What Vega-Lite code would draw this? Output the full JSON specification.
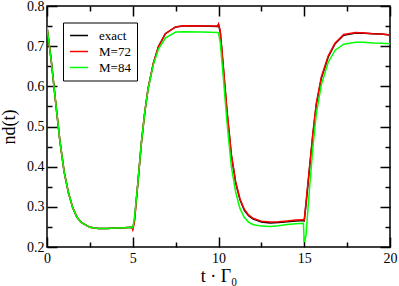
{
  "$schema": "https://vega.github.io/schema/vega-lite/v6.json",
  "width": 343,
  "height": 241,
  "autosize": {"type": "none"},
  "padding": {"left": 47, "top": 6, "right": 9, "bottom": 39},
  "background": "white",
  "config": {
    "view": {"stroke": "#000000", "strokeWidth": 1.5},
    "font": "'Liberation Serif', 'DejaVu Serif', serif",
    "axis": {"grid": false, "labelFlush": false, "labelOverlap": false, "tickColor": "#000000", "tickWidth": 1.5, "domain": false, "labelColor": "#000000", "titleColor": "#000000", "labelFont": "'Liberation Serif', 'DejaVu Serif', serif", "titleFont": "'Liberation Serif', 'DejaVu Serif', serif", "titleFontWeight": "normal"},
    "legend": {"labelFont": "'Liberation Serif', 'DejaVu Serif', serif"}
  },
  "data": {
    "values": [
      {"t": 0, "exact": 0.748, "m72": 0.748, "m84": 0.748},
      {"t": 0.25, "exact": 0.663, "m72": 0.663, "m84": 0.663},
      {"t": 0.5, "exact": 0.562, "m72": 0.562, "m84": 0.562},
      {"t": 0.75, "exact": 0.465, "m72": 0.465, "m84": 0.465},
      {"t": 1.0, "exact": 0.387, "m72": 0.387, "m84": 0.387},
      {"t": 1.25, "exact": 0.335, "m72": 0.335, "m84": 0.335},
      {"t": 1.5, "exact": 0.298, "m72": 0.298, "m84": 0.298},
      {"t": 1.75, "exact": 0.274, "m72": 0.274, "m84": 0.274},
      {"t": 2.0, "exact": 0.261, "m72": 0.261, "m84": 0.261},
      {"t": 2.5, "exact": 0.249, "m72": 0.249, "m84": 0.249},
      {"t": 3.0, "exact": 0.246, "m72": 0.246, "m84": 0.246},
      {"t": 3.5, "exact": 0.246, "m72": 0.246, "m84": 0.246},
      {"t": 4.0, "exact": 0.247, "m72": 0.247, "m84": 0.247},
      {"t": 4.5, "exact": 0.248, "m72": 0.248, "m84": 0.248},
      {"t": 4.95, "exact": 0.249, "m72": 0.249, "m84": 0.249},
      {"t": 5.0, "exact": 0.246, "m72": 0.243, "m84": 0.248},
      {"t": 5.1, "exact": 0.268, "m72": 0.262, "m84": 0.272},
      {"t": 5.3, "exact": 0.36, "m72": 0.36, "m84": 0.36},
      {"t": 5.5, "exact": 0.458, "m72": 0.458, "m84": 0.458},
      {"t": 5.7, "exact": 0.535, "m72": 0.535, "m84": 0.535},
      {"t": 5.9, "exact": 0.596, "m72": 0.596, "m84": 0.594},
      {"t": 6.2, "exact": 0.657, "m72": 0.657, "m84": 0.654},
      {"t": 6.5, "exact": 0.699, "m72": 0.699, "m84": 0.693},
      {"t": 6.9, "exact": 0.731, "m72": 0.731, "m84": 0.72},
      {"t": 7.5, "exact": 0.748, "m72": 0.748, "m84": 0.735},
      {"t": 8.0, "exact": 0.751, "m72": 0.751, "m84": 0.736},
      {"t": 9.0, "exact": 0.75, "m72": 0.75, "m84": 0.735},
      {"t": 9.95, "exact": 0.749, "m72": 0.75, "m84": 0.734},
      {"t": 10.0, "exact": 0.754, "m72": 0.755, "m84": 0.733},
      {"t": 10.1, "exact": 0.736, "m72": 0.738, "m84": 0.71},
      {"t": 10.25, "exact": 0.662, "m72": 0.665, "m84": 0.638},
      {"t": 10.5, "exact": 0.535, "m72": 0.538, "m84": 0.508},
      {"t": 10.75, "exact": 0.428, "m72": 0.43, "m84": 0.4},
      {"t": 11.0, "exact": 0.36, "m72": 0.362, "m84": 0.337},
      {"t": 11.25, "exact": 0.318, "m72": 0.32, "m84": 0.296},
      {"t": 11.5, "exact": 0.292, "m72": 0.294, "m84": 0.274},
      {"t": 11.75, "exact": 0.278, "m72": 0.28, "m84": 0.262},
      {"t": 12.0, "exact": 0.27, "m72": 0.272, "m84": 0.256},
      {"t": 12.5, "exact": 0.262, "m72": 0.264, "m84": 0.252},
      {"t": 13.0, "exact": 0.26, "m72": 0.262, "m84": 0.251},
      {"t": 13.5, "exact": 0.261, "m72": 0.263, "m84": 0.253},
      {"t": 14.0, "exact": 0.263, "m72": 0.265, "m84": 0.256},
      {"t": 14.5, "exact": 0.265, "m72": 0.267, "m84": 0.258},
      {"t": 14.95, "exact": 0.266, "m72": 0.268, "m84": 0.259},
      {"t": 15.0, "exact": 0.265, "m72": 0.267, "m84": 0.212},
      {"t": 15.1, "exact": 0.305, "m72": 0.31, "m84": 0.228},
      {"t": 15.3, "exact": 0.392, "m72": 0.396, "m84": 0.342},
      {"t": 15.5, "exact": 0.478, "m72": 0.482, "m84": 0.446},
      {"t": 15.7, "exact": 0.553, "m72": 0.557, "m84": 0.53},
      {"t": 16.0, "exact": 0.621, "m72": 0.624, "m84": 0.605},
      {"t": 16.4, "exact": 0.673, "m72": 0.676, "m84": 0.66},
      {"t": 16.8, "exact": 0.706, "m72": 0.708, "m84": 0.69},
      {"t": 17.3, "exact": 0.727, "m72": 0.729, "m84": 0.705},
      {"t": 18.0, "exact": 0.733, "m72": 0.734, "m84": 0.71},
      {"t": 18.5, "exact": 0.732, "m72": 0.733, "m84": 0.71},
      {"t": 19.0, "exact": 0.731, "m72": 0.731, "m84": 0.708},
      {"t": 19.5, "exact": 0.73, "m72": 0.73, "m84": 0.707},
      {"t": 20.0, "exact": 0.728, "m72": 0.728, "m84": 0.706}
    ]
  },
  "transform": [
    {"fold": ["exact", "m72", "m84"], "as": ["series", "v"]}
  ],
  "layer": [
    {
      "mark": {"type": "line", "strokeWidth": 1.5, "clip": true},
      "encoding": {
        "x": {"field": "t", "type": "quantitative", "scale": {"domain": [0, 20], "nice": false, "zero": false},
          "axis": {"orient": "bottom", "values": [0, 5, 10, 15, 20], "tickSize": -10, "labelPadding": 14, "labelFontSize": 14, "format": "d", "title": "t · Γ₀", "titleFontSize": 18, "titlePadding": 2}},
        "y": {"field": "v", "type": "quantitative", "scale": {"domain": [0.2, 0.8], "nice": false, "zero": false},
          "axis": {"orient": "left", "values": [0.2, 0.3, 0.4, 0.5, 0.6, 0.7, 0.8], "tickSize": -10, "labelPadding": 13, "labelFontSize": 14, "format": ".1f", "title": "nd(t)", "titleFontSize": 18, "titlePadding": 8}},
        "color": {"field": "series", "type": "nominal",
          "scale": {"domain": ["exact", "m72", "m84"], "range": ["#000000", "#ff0000", "#00ff00"]},
          "legend": {"title": null, "orient": "none", "legendX": 16, "legendY": 16.5, "padding": 6,
            "labelExpr": "datum.value == 'exact' ? 'exact' : datum.value == 'm72' ? 'M=72' : 'M=84'",
            "strokeColor": "#000000", "fillColor": "#ffffff",
            "symbolType": "M-1.5,0H1.5", "symbolSize": 144, "symbolStrokeWidth": 1.5, "symbolOffset": 3,
            "labelOffset": 13, "labelFontSize": 13, "labelColor": "#000000", "rowPadding": 2}}
      }
    },
    {
      "mark": {"type": "point", "opacity": 0},
      "encoding": {
        "x": {"field": "t", "type": "quantitative", "scale": {"domain": [0, 20], "nice": false, "zero": false},
          "axis": {"orient": "bottom", "values": [2.5, 7.5, 12.5, 17.5], "tickSize": -5, "labels": false, "title": null}},
        "y": {"field": "v", "type": "quantitative", "scale": {"domain": [0.2, 0.8], "nice": false, "zero": false},
          "axis": {"orient": "left", "values": [0.25, 0.35, 0.45, 0.55, 0.65, 0.75], "tickSize": -5, "labels": false, "title": null}}
      }
    },
    {
      "mark": {"type": "point", "opacity": 0},
      "encoding": {
        "x": {"field": "t", "type": "quantitative", "scale": {"domain": [0, 20], "nice": false, "zero": false},
          "axis": {"orient": "top", "values": [0, 5, 10, 15, 20], "tickSize": -10, "labels": false, "title": null}},
        "y": {"field": "v", "type": "quantitative", "scale": {"domain": [0.2, 0.8], "nice": false, "zero": false},
          "axis": {"orient": "right", "values": [0.2, 0.3, 0.4, 0.5, 0.6, 0.7, 0.8], "tickSize": -10, "labels": false, "title": null}}
      }
    },
    {
      "mark": {"type": "point", "opacity": 0},
      "encoding": {
        "x": {"field": "t", "type": "quantitative", "scale": {"domain": [0, 20], "nice": false, "zero": false},
          "axis": {"orient": "top", "values": [2.5, 7.5, 12.5, 17.5], "tickSize": -5, "labels": false, "title": null}},
        "y": {"field": "v", "type": "quantitative", "scale": {"domain": [0.2, 0.8], "nice": false, "zero": false},
          "axis": {"orient": "right", "values": [0.25, 0.35, 0.45, 0.55, 0.65, 0.75], "tickSize": -5, "labels": false, "title": null}}
      }
    }
  ],
  "resolve": {"axis": {"x": "independent", "y": "independent"}}
}
